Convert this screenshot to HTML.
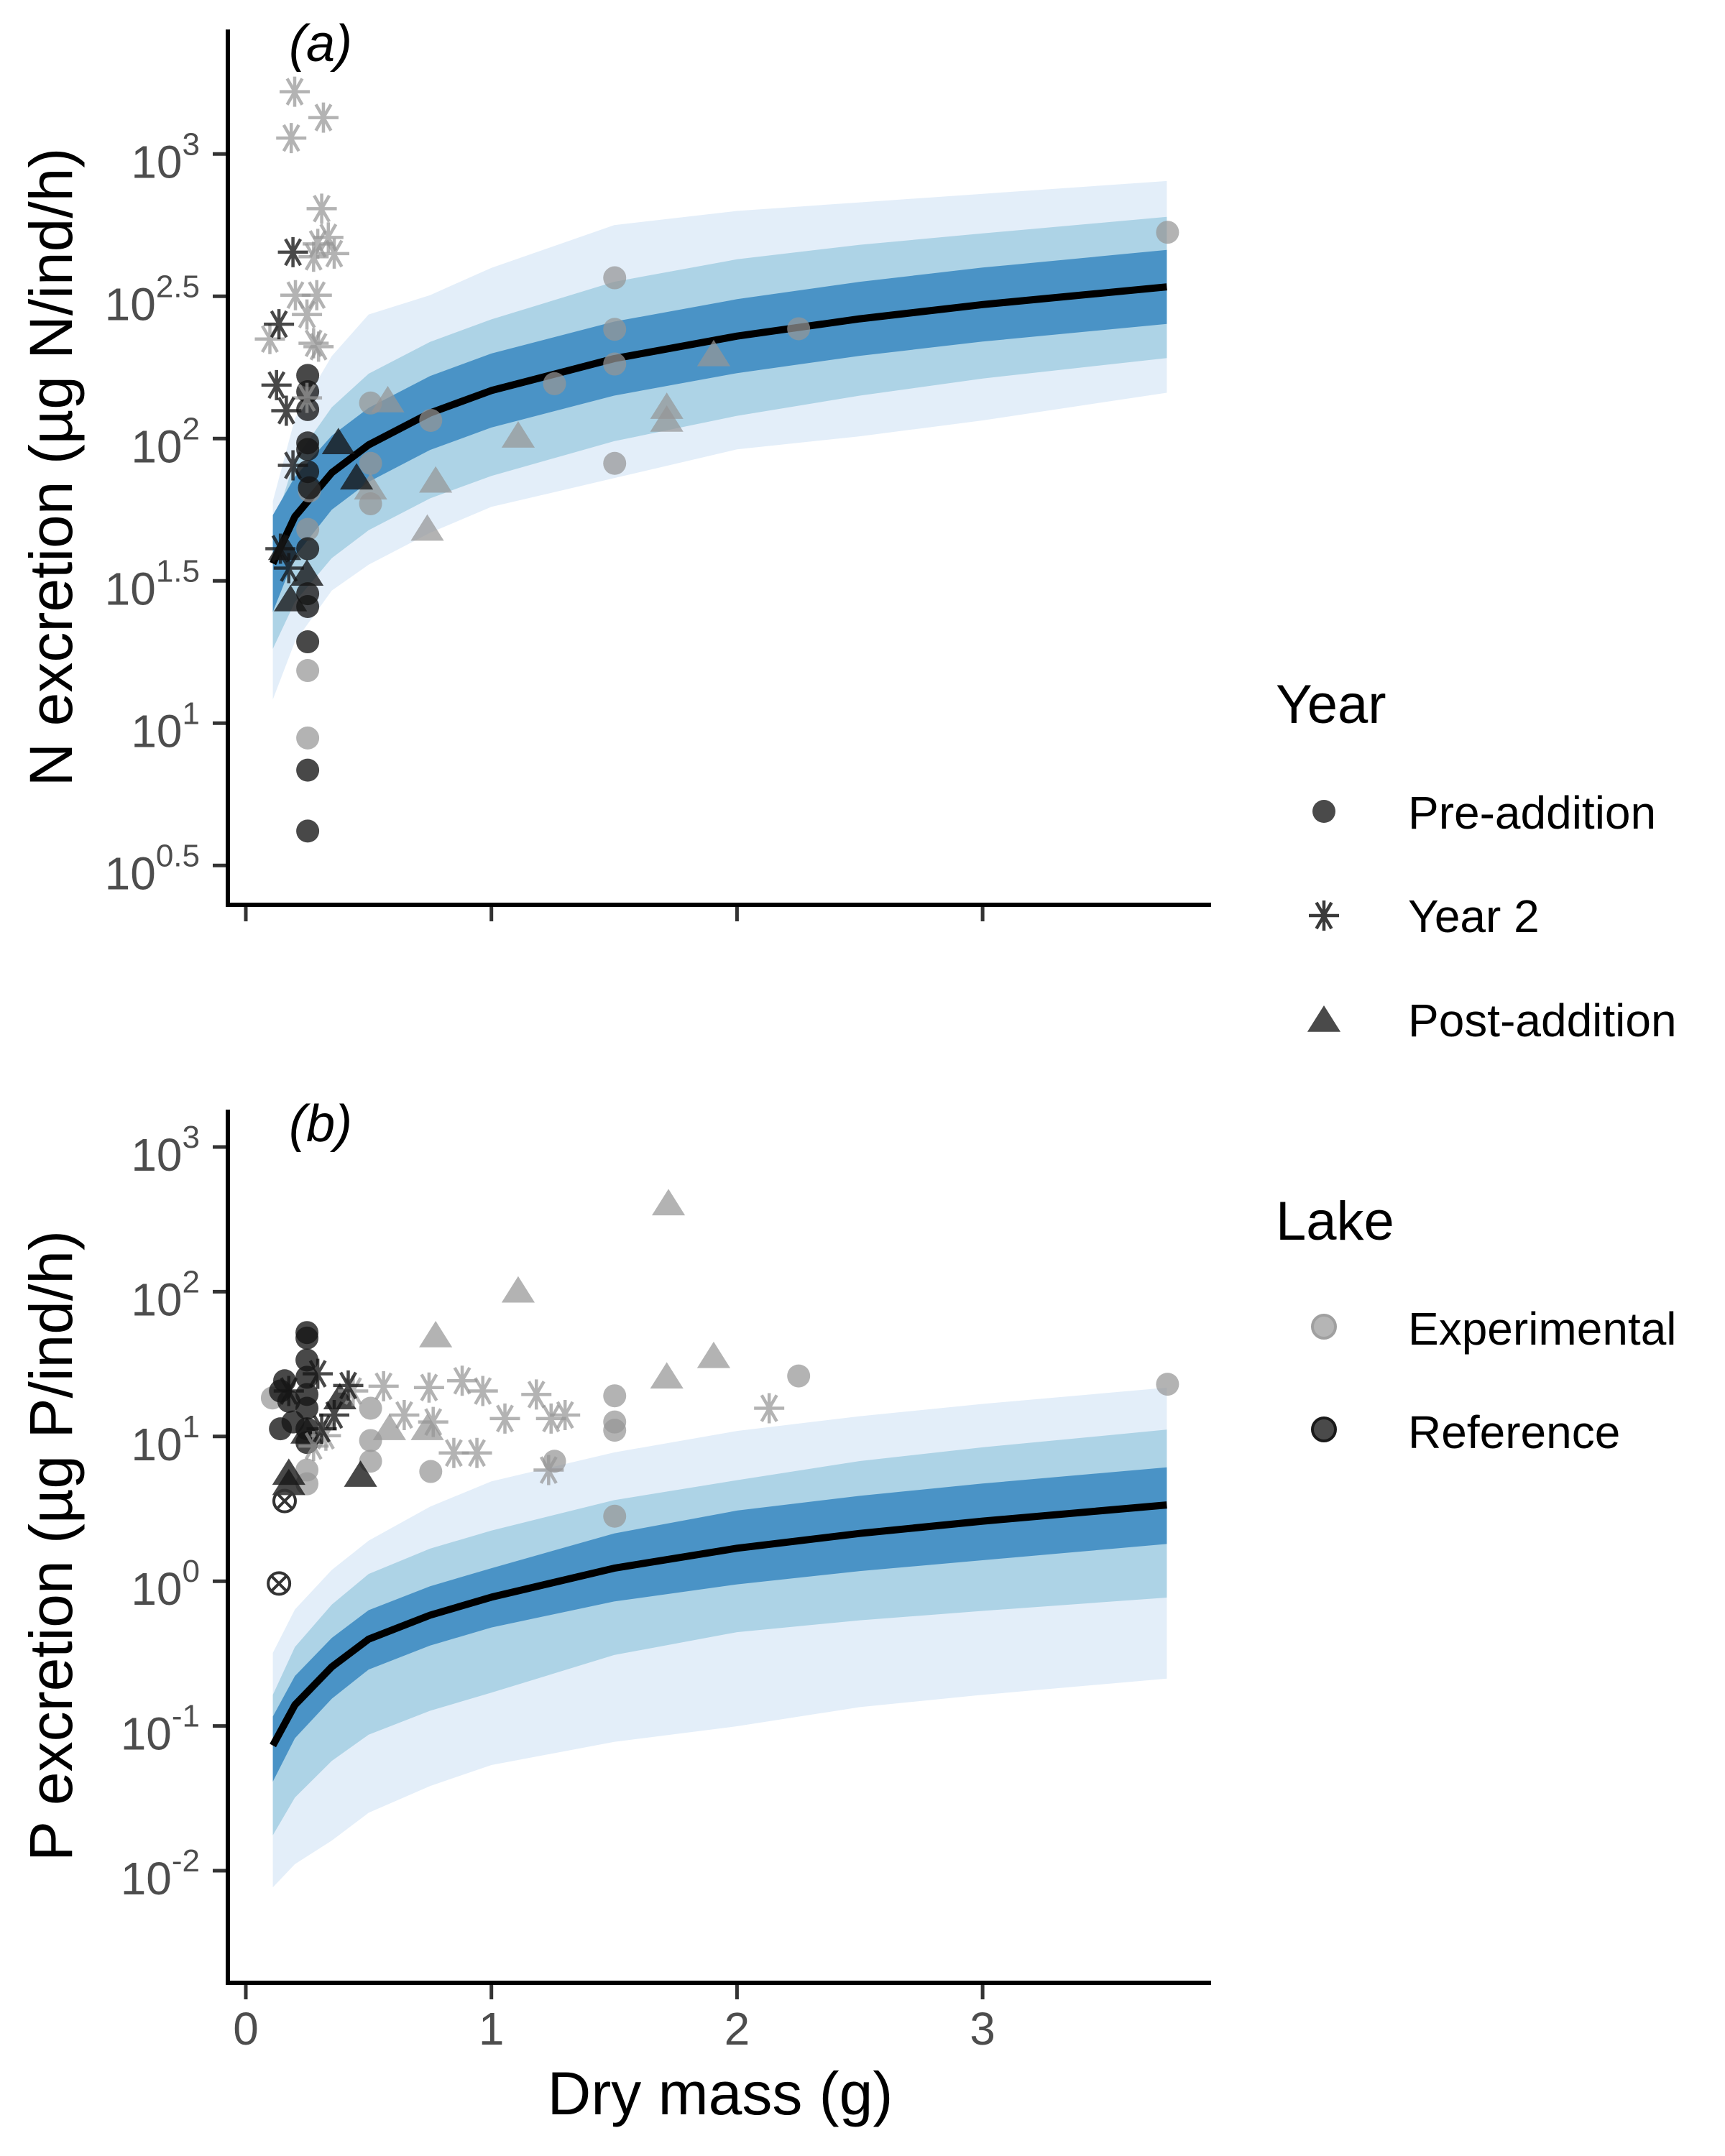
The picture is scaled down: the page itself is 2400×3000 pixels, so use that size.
<!DOCTYPE html>
<html><head><meta charset="utf-8"><style>
html,body{margin:0;padding:0;background:#fff;}
svg{display:block;font-family:"Liberation Sans",Arial,sans-serif;}
</style></head><body>
<svg id="chart" width="2400" height="3000" viewBox="0 0 2400 3000" xmlns="http://www.w3.org/2000/svg">
<g id="pa"></g>
<g id="pb"></g>
<g id="leg"></g>
<text x="1002" y="2942" font-size="84" text-anchor="middle" fill="#000">Dry mass (g)</text>
<text transform="translate(100,650) rotate(-90)" font-size="84" text-anchor="middle" fill="#000">N excretion (µg N/ind/h)</text>
<text transform="translate(100,2151) rotate(-90)" font-size="84" text-anchor="middle" fill="#000">P excretion (µg P/ind/h)</text>
<text x="402" y="85" font-size="72" font-style="italic" fill="#000">(a)</text>
<text x="402" y="1588" font-size="72" font-style="italic" fill="#000">(b)</text>
</svg>
<script>
// ---------- data ----------
const xTicks = [0, 1, 2, 3];
const yTicksA = [0.5, 1, 1.5, 2, 2.5, 3];
const yTickLabelsA = ["0.5", "1", "1.5", "2", "2.5", "3"];
const yTicksB = [-2, -1, 0, 1, 2, 3];
const yTickLabelsB = ["-2", "-1", "0", "1", "2", "3"];

const bandGA = [0.11, 0.2, 0.35, 0.5, 0.75, 1, 1.5, 2, 2.5, 3, 3.75];
const medA = [1.561, 1.726, 1.880, 1.978, 2.090, 2.169, 2.281, 2.360, 2.421, 2.471, 2.533];
const lightTopA = [1.78, 2.07, 2.29, 2.436, 2.504, 2.60, 2.75, 2.80, 2.83, 2.86, 2.905];
const lightBotA = [1.083, 1.286, 1.466, 1.557, 1.669, 1.76, 1.861, 1.962, 2.008, 2.064, 2.161];
const medUpA = [0.12, 0.2, 0.23, 0.25, 0.25, 0.25, 0.27, 0.27, 0.26, 0.25, 0.246];
const medDnA = [0.3, 0.3, 0.3, 0.3, 0.3, 0.3, 0.29, 0.28, 0.27, 0.26, 0.25];
const darkHalfA = [0.17, 0.14, 0.13, 0.13, 0.13, 0.13, 0.13, 0.13, 0.13, 0.13, 0.13];

const bandGB = [0.11, 0.2, 0.35, 0.5, 0.75, 1, 1.5, 2, 2.5, 3, 3.75];
const medB = [-1.135, -0.855, -0.592, -0.40, -0.235, -0.11, 0.090, 0.228, 0.33, 0.415, 0.527];
const lightUpB = [0.64, 0.66, 0.67, 0.68, 0.75, 0.80, 0.80, 0.81, 0.81, 0.81, 0.81];
const lightDnB = [0.98, 1.1, 1.2, 1.2, 1.18, 1.16, 1.2, 1.23, 1.2, 1.2, 1.2];
const medUpB = [0.35, 0.4, 0.43, 0.45, 0.46, 0.46, 0.47, 0.47, 0.5, 0.51, 0.52];
const medDnB = [0.62, 0.64, 0.65, 0.66, 0.66, 0.66, 0.6, 0.58, 0.6, 0.62, 0.64];
const darkUpB = [0.2, 0.2, 0.2, 0.2, 0.2, 0.2, 0.24, 0.26, 0.26, 0.26, 0.26];
const darkDnB = [0.25, 0.23, 0.22, 0.21, 0.21, 0.21, 0.23, 0.25, 0.26, 0.27, 0.27];

const aExpYear2 = [[0.199,3.219],[0.185,3.056],[0.316,3.128],[0.309,2.808],[0.336,2.707],[0.293,2.684],[0.36,2.65],[0.276,2.639],[0.202,2.504],[0.289,2.504],[0.249,2.436],[0.276,2.335],[0.296,2.323],[0.098,2.35],[0.249,2.143]];
const aRefYear2 = [[0.192,2.655],[0.135,2.402],[0.125,2.188],[0.165,2.098],[0.192,1.906],[0.141,1.613],[0.175,1.545]];
const aRefPre = [[0.252,2.222],[0.252,2.165],[0.252,2.102],[0.252,1.985],[0.252,1.962],[0.252,1.884],[0.259,1.827],[0.252,1.613],[0.252,1.455],[0.252,1.41],[0.252,1.286],[0.252,0.835],[0.252,0.621]];
const aExpPre = [[1.502,2.565],[1.502,2.384],[1.502,2.262],[1.502,1.913],[2.251,2.386],[3.753,2.725],[1.257,2.193],[0.753,2.064],[0.508,2.125],[0.508,1.913],[0.508,1.771],[0.259,1.816],[0.252,1.681],[0.252,1.185],[0.252,0.948]];
const aExpPost = [[0.578,2.132],[1.109,2.008],[0.773,1.85],[0.739,1.681],[1.714,2.109],[1.714,2.064],[1.905,2.294],[0.508,1.826]];
const aRefPost = [[0.377,1.985],[0.451,1.861],[0.182,1.433],[0.249,1.523],[0.158,1.613]];

const bExpPost = [[1.721,2.606],[1.109,2.003],[0.773,1.694],[1.905,1.551],[1.714,1.409],[0.585,1.053],[0.739,1.053]];
const bRefPost = [[0.467,0.73],[0.175,0.673],[0.175,0.744],[0.383,1.266],[0.249,1.029]];
const bExpYear2 = [[0.561,1.347],[0.437,1.314],[0.746,1.338],[0.881,1.385],[0.965,1.314],[1.183,1.29],[0.645,1.148],[0.763,1.1],[0.847,0.886],[0.941,0.886],[1.055,1.124],[1.243,1.124],[1.3,1.148],[1.233,0.768],[2.131,1.195],[0.326,1.005],[0.276,0.934]];
const bRefYear2 = [[0.417,1.352],[0.36,1.148],[0.309,1.053],[0.293,1.433],[0.175,1.314]];
const bRefPre = [[0.249,1.718],[0.249,1.68],[0.249,1.528],[0.249,1.409],[0.249,1.29],[0.249,1.195],[0.249,1.053],[0.249,0.958],[0.141,1.314],[0.175,1.243],[0.141,1.053],[0.158,1.385],[0.192,1.1]];
const bExpPre = [[1.502,1.281],[1.502,1.1],[1.502,1.043],[1.502,0.449],[2.251,1.418],[3.753,1.361],[1.257,0.829],[0.753,0.758],[0.508,0.972],[0.508,0.829],[0.508,1.195],[0.249,0.768],[0.249,0.673],[0.108,1.266]];
const bRefCross = [[0.135,-0.016],[0.158,0.554]];

// ---------- scales ----------
const xs = g => 342 + g * 341.7;
const ysA = L => 214.3 + (3 - L) * 396;
const ysB = L => 1596 + (3 - L) * 201.4;
const NS = "http://www.w3.org/2000/svg";
function mk(tag, attrs, parent) {
  const e = document.createElementNS(NS, tag);
  for (const k in attrs) e.setAttribute(k, attrs[k]);
  parent.appendChild(e);
  return e;
}
const EXP = "rgba(150,150,150,0.72)", REF = "rgba(20,20,20,0.78)";

function band(parent, G, top, bot, ys, color, name) {
  let d = "";
  G.forEach((g, i) => { d += (i ? "L" : "M") + xs(g).toFixed(1) + "," + ys(top[i]).toFixed(1); });
  for (let i = G.length - 1; i >= 0; i--) d += "L" + xs(G[i]).toFixed(1) + "," + ys(bot[i]).toFixed(1);
  const p = mk("path", { d: d + "Z", fill: color }, parent);
  
  
}
function line(parent, G, med, ys, name) {
  let d = "";
  G.forEach((g, i) => { d += (i ? "L" : "M") + xs(g).toFixed(1) + "," + ys(med[i]).toFixed(1); });
  const p = mk("path", { d: d, fill: "none", stroke: "#000", "stroke-width": 10, "stroke-linejoin": "round" }, parent);
  
  
}
function circle(parent, x, y, col, name, stroke) {
  const c = mk("circle", { cx: x, cy: y, r: 16, fill: col }, parent);
  if (stroke) { c.setAttribute("stroke", stroke); c.setAttribute("stroke-width", 4); }
  
  
  return c;
}
function tri(parent, x, y, col, name) {
  const s = 21;
  const p = mk("path", { d: `M${x},${y - s}L${x + s * 1.1},${y + s * 0.75}L${x - s * 1.1},${y + s * 0.75}Z`, fill: col }, parent);
  
  
}
function star(parent, x, y, col, name) {
  const r = 21;
  let d = `M${x - r},${y}L${x + r},${y}`;
  [60, 120].forEach(a => { const c = Math.cos(a * Math.PI / 180) * r, s = Math.sin(a * Math.PI / 180) * r; d += `M${x - c},${y - s}L${x + c},${y + s}`; });
  d += `M${x},${y - r}L${x},${y + r}`;
  const p = mk("path", { d: d, stroke: col, "stroke-width": 4.5, fill: "none" }, parent);
  
  
}
function cross(parent, x, y, name) {
  const g = mk("g", {}, parent);
  
  
  mk("circle", { cx: x, cy: y, r: 15, fill: "none", stroke: "#333", "stroke-width": 4 }, g);
  mk("path", { d: `M${x - 10},${y - 10}L${x + 10},${y + 10}M${x - 10},${y + 10}L${x + 10},${y - 10}`, stroke: "#333", "stroke-width": 4 }, g);
}
function axes(parent, ys, ticks, labels, top, bottom, showX, nm) {
  const yl = mk("path", { d: `M317,${top}V${bottom + 3}`, stroke: "#000", "stroke-width": 6 }, parent);
  
  
  const xl = mk("path", { d: `M314,${bottom}H1685`, stroke: "#000", "stroke-width": 6 }, parent);
  
  
  ticks.forEach((t, i) => {
    const y = ys(t);
    const tk = mk("path", { d: `M296,${y}H314`, stroke: "#333", "stroke-width": 5 }, parent);
    
    
    const tx = mk("text", { x: 278, y: y + 33, "font-size": 64, fill: "#4d4d4d", "text-anchor": "end" }, parent);
    
    
    const t1 = mk("tspan", {}, tx); t1.textContent = "10";
    const t2 = mk("tspan", { dy: -32, "font-size": 44 }, tx); t2.textContent = labels[i];
  });
  xTicks.forEach(v => {
    const x = xs(v);
    const tk = mk("path", { d: `M${x},${bottom + 3}V${bottom + 23}`, stroke: "#333", "stroke-width": 5 }, parent);
    
    
    if (showX) {
      const tx = mk("text", { x: x, y: bottom + 86, "font-size": 64, fill: "#4d4d4d", "text-anchor": "middle" }, parent);
      
      
      tx.textContent = String(v);
    }
  });
}
const LIGHT = "#e3eef9", MED = "#add3e6", DARK = "#4a93c6";

const pa = document.getElementById("pa");
band(pa, bandGA, lightTopA, lightBotA, ysA, LIGHT, "band-95-a");
band(pa, bandGA, medA.map((m, i) => m + medUpA[i]), medA.map((m, i) => m - medDnA[i]), ysA, MED, "band-80-a");
band(pa, bandGA, medA.map((m, i) => m + darkHalfA[i]), medA.map((m, i) => m - darkHalfA[i]), ysA, DARK, "band-50-a");
line(pa, bandGA, medA, ysA, "median-line-a");
aExpPre.forEach(p => circle(pa, xs(p[0]), ysA(p[1]), EXP, "point-exp-pre"));
aRefPre.forEach(p => circle(pa, xs(p[0]), ysA(p[1]), REF, "point-ref-pre"));
aExpPost.forEach(p => tri(pa, xs(p[0]), ysA(p[1]), EXP, "point-exp-post"));
aRefPost.forEach(p => tri(pa, xs(p[0]), ysA(p[1]), REF, "point-ref-post"));
aExpYear2.forEach(p => star(pa, xs(p[0]), ysA(p[1]), EXP, "point-exp-year2"));
aRefYear2.forEach(p => star(pa, xs(p[0]), ysA(p[1]), REF, "point-ref-year2"));
axes(pa, ysA, yTicksA, yTickLabelsA, 41, 1259, false, "panel-a");

const pb = document.getElementById("pb");
band(pb, bandGB, medB.map((m, i) => m + lightUpB[i]), medB.map((m, i) => m - lightDnB[i]), ysB, LIGHT, "band-95-b");
band(pb, bandGB, medB.map((m, i) => m + medUpB[i]), medB.map((m, i) => m - medDnB[i]), ysB, MED, "band-80-b");
band(pb, bandGB, medB.map((m, i) => m + darkUpB[i]), medB.map((m, i) => m - darkDnB[i]), ysB, DARK, "band-50-b");
line(pb, bandGB, medB, ysB, "median-line-b");
bExpPre.forEach(p => circle(pb, xs(p[0]), ysB(p[1]), EXP, "point-exp-pre"));
bRefPre.forEach(p => circle(pb, xs(p[0]), ysB(p[1]), REF, "point-ref-pre"));
bExpPost.forEach(p => tri(pb, xs(p[0]), ysB(p[1]), EXP, "point-exp-post"));
bRefPost.forEach(p => tri(pb, xs(p[0]), ysB(p[1]), REF, "point-ref-post"));
bExpYear2.forEach(p => star(pb, xs(p[0]), ysB(p[1]), EXP, "point-exp-year2"));
bRefYear2.forEach(p => star(pb, xs(p[0]), ysB(p[1]), REF, "point-ref-year2"));
bRefCross.forEach(p => cross(pb, xs(p[0]), ysB(p[1]), "point-ref-flagged"));
axes(pb, ysB, yTicksB, yTickLabelsB, 1544, 2759, true, "panel-b");

const lg = document.getElementById("leg");
function ltext(x, y, fs, s, name) {
  const t = mk("text", { x: x, y: y, "font-size": fs, fill: "#000" }, lg);
  
  
  t.textContent = s;
}
ltext(1775, 1006, 76, "Year", "legend-title-year");
circle(lg, 1842, 1129, "#4a4a4a", "legend-key-pre-addition");
ltext(1959, 1153, 64, "Pre-addition", "legend-label-pre-addition");
star(lg, 1842, 1274, "#3a3a3a", "legend-key-year-2");
ltext(1959, 1297, 64, "Year 2", "legend-label-year-2");
tri(lg, 1842, 1420, "#4a4a4a", "legend-key-post-addition");
ltext(1959, 1442, 64, "Post-addition", "legend-label-post-addition");
ltext(1775, 1725, 76, "Lake", "legend-title-lake");
circle(lg, 1842, 1846, "#b5b5b5", "legend-key-experimental", "#a0a0a0");
ltext(1959, 1871, 64, "Experimental", "legend-label-experimental");
circle(lg, 1842, 1989, "#4a4a4a", "legend-key-reference", "#1a1a1a");
ltext(1959, 2015, 64, "Reference", "legend-label-reference");
</script>
</body></html>
